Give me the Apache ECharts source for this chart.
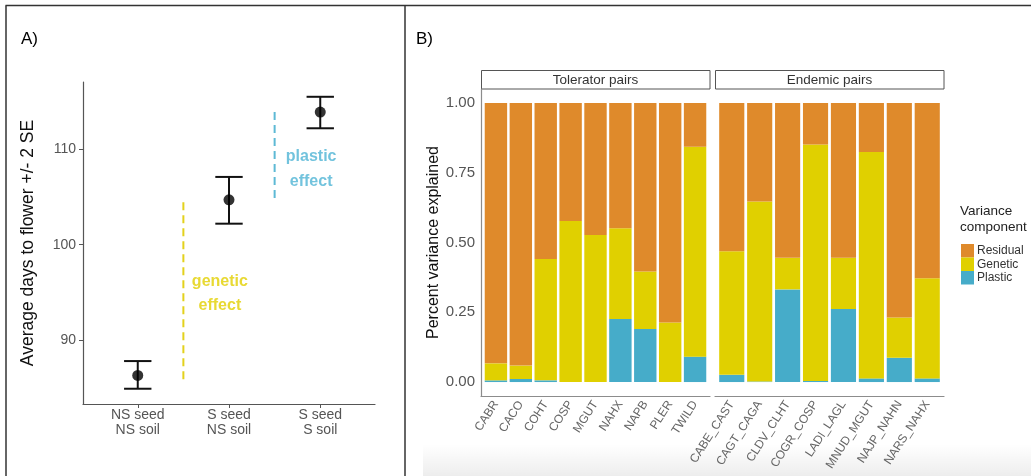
<!DOCTYPE html>
<html><head><meta charset="utf-8">
<script src="https://cdn.jsdelivr.net/npm/echarts@6/dist/echarts.min.js"></script>
<style>html,body{margin:0;padding:0;background:#fff}#c{width:1031px;height:476px}</style>
</head><body><div id="c"></div>
<script>
// ---------- Panel A data ----------
const treatments = ['NS seed\nNS soil', 'S seed\nNS soil', 'S seed\nS soil'];
const meanDays = [86.3, 104.7, 113.9];
const lowerSE = [84.9, 102.2, 112.2];
const upperSE = [87.8, 107.1, 115.5];
const aTicks = [90, 100, 110];
const geneticLineX = 0.5, geneticLineY = [85.9, 104.6];
const plasticLineX = 1.5, plasticLineY = [104.9, 114.1];
const geneticLabelPos = [0.9, 94.85];
const plasticLabelPos = [1.9, 107.9];

// ---------- Panel B data ----------
const tolCats = ['CABR', 'CACO', 'COHT', 'COSP', 'MGUT', 'NAHX', 'NAPB', 'PLER', 'TWILD'];
const tolPlastic = [0.006, 0.011, 0.006, 0.000, 0.000, 0.226, 0.190, 0.000, 0.091];
const tolGenetic = [0.061, 0.048, 0.435, 0.577, 0.527, 0.325, 0.206, 0.213, 0.752];
const tolResidual = [0.933, 0.941, 0.559, 0.423, 0.473, 0.449, 0.604, 0.787, 0.157];

const endCats = ['CABE_CAST', 'CAGT_CAGA', 'CLDV_CLHT', 'COGR_COSP', 'LADI_LAGL', 'MNUD_MGUT', 'NAJP_NAHN', 'NARS_NAHX'];
const endPlastic = [0.026, 0.002, 0.332, 0.004, 0.262, 0.013, 0.087, 0.013];
const endGenetic = [0.443, 0.645, 0.113, 0.847, 0.183, 0.811, 0.144, 0.359];
const endResidual = [0.531, 0.353, 0.555, 0.149, 0.555, 0.176, 0.769, 0.628];

const bTicks = [0, 0.25, 0.5, 0.75, 1];

const COL = { Residual: '#DF8A2B', Genetic: '#E0D000', Plastic: '#46ACC9' };
const FONT = '"Liberation Sans", Arial, sans-serif';

function stackRows(plastic, genetic, residual) {
  const p = plastic.map((v, i) => [i, 0, v]);
  const g = genetic.map((v, i) => [i, plastic[i], v]);
  const r = residual.map((v, i) => [i, plastic[i] + genetic[i], v]);
  return { p, g, r };
}
const tol = stackRows(tolPlastic, tolGenetic, tolResidual);
const end = stackRows(endPlastic, endGenetic, endResidual);

function barRender(params, api) {
  const x = api.value(0), b = api.value(1), h = api.value(2);
  const p0 = api.coord([x, b]);
  const p1 = api.coord([x, b + h]);
  const w = api.size([0.9, 0])[0];
  return { type: 'rect', shape: { x: p0[0] - w / 2, y: p1[1], width: w, height: p0[1] - p1[1] },
           style: { fill: api.visual('color') } };
}
function barSeries(name, rows, idx) {
  return { type: 'custom', name: name, xAxisIndex: idx, yAxisIndex: idx, renderItem: barRender,
           encode: { x: 0, y: 2 }, itemStyle: { color: COL[name] }, data: rows, silent: true };
}
function errRender(params, api) {
  const x = api.value(0);
  const lo = api.coord([x, api.value(1)]);
  const hi = api.coord([x, api.value(2)]);
  const hw = api.size([0.15, 0])[0];
  const st = { stroke: '#111', lineWidth: 2 };
  return { type: 'group', children: [
    { type: 'line', shape: { x1: lo[0], y1: lo[1], x2: hi[0], y2: hi[1] }, style: st },
    { type: 'line', shape: { x1: lo[0] - hw, y1: lo[1], x2: lo[0] + hw, y2: lo[1] }, style: st },
    { type: 'line', shape: { x1: hi[0] - hw, y1: hi[1], x2: hi[0] + hw, y2: hi[1] }, style: st }
  ] };
}

const bAxisColor = '#8c8c8c';
function bXAxis(idx, cats) {
  return { type: 'value', gridIndex: idx, min: -0.6, max: cats.length - 0.4,
    axisLine: { show: true, onZero: false, lineStyle: { color: bAxisColor, width: 1.2 } },
    axisTick: { show: false }, splitLine: { show: false },
    axisLabel: { customValues: cats.map((c, i) => i), rotate: 57, margin: 6,
      formatter: v => cats[Math.round(v)], color: '#666', fontSize: 12, fontFamily: FONT } };
}

const chart = echarts.init(document.getElementById('c'), null, { renderer: 'canvas' });
chart.setOption({
  backgroundColor: '#fff',
  animation: false,
  textStyle: { fontFamily: FONT },
  title: [
    { text: 'A)', left: 21, top: 31, padding: 0, textStyle: { fontSize: 17, fontWeight: 'normal', color: '#000', fontFamily: FONT } },
    { text: 'B)', left: 416, top: 31, padding: 0, textStyle: { fontSize: 17, fontWeight: 'normal', color: '#000', fontFamily: FONT } },
    { text: 'Variance\ncomponent', left: 960, top: 203, padding: 0,
      textStyle: { fontSize: 13.5, fontWeight: 'normal', color: '#222', lineHeight: 16.5, fontFamily: FONT } }
  ],
  legend: {
    data: ['Residual', 'Genetic', 'Plastic'], orient: 'vertical', left: 961, top: 244, padding: 0,
    itemWidth: 13, itemHeight: 13.5, itemGap: 0, icon: 'rect', selectedMode: false,
    textStyle: { fontSize: 12, color: '#333', lineHeight: 13.5, fontFamily: FONT, padding: [0, 0, 0, -2] }
  },
  grid: [
    { left: 83, top: 82, width: 292, height: 322 },
    { left: 481, top: 89, width: 229, height: 307 },
    { left: 715, top: 89, width: 229, height: 307 }
  ],
  xAxis: [
    { type: 'value', gridIndex: 0, min: -0.6, max: 2.6,
      axisLine: { onZero: false, lineStyle: { color: '#555', width: 1.2 } },
      axisTick: { show: true, customValues: [0, 1, 2], length: 4, lineStyle: { color: '#555' } },
      splitLine: { show: false },
      axisLabel: { customValues: [0, 1, 2], formatter: v => treatments[Math.round(v)], margin: 4,
        color: '#555', fontSize: 14, lineHeight: 15, fontFamily: FONT } },
    bXAxis(1, tolCats),
    bXAxis(2, endCats)
  ],
  yAxis: [
    { type: 'value', gridIndex: 0, min: 83.3, max: 117.05,
      name: 'Average days to flower +/- 2 SE', nameLocation: 'middle', nameRotate: 90, nameGap: 46,
      nameTextStyle: { fontSize: 17.5, color: '#111', fontFamily: FONT },
      axisLine: { show: true, onZero: false, lineStyle: { color: '#555', width: 1.2 } },
      axisTick: { show: true, customValues: aTicks, length: 4, lineStyle: { color: '#555' } },
      splitLine: { show: false },
      axisLabel: { customValues: aTicks, margin: 7, color: '#555', fontSize: 14, fontFamily: FONT } },
    { type: 'value', gridIndex: 1, min: -0.05, max: 1.05,
      name: 'Percent variance explained', nameLocation: 'middle', nameRotate: 90, nameGap: 38,
      nameTextStyle: { fontSize: 16, color: '#111', fontFamily: FONT },
      axisLine: { show: true, onZero: false, lineStyle: { color: bAxisColor, width: 1.2 } },
      axisTick: { show: false }, splitLine: { show: false },
      axisLabel: { customValues: bTicks, margin: 6, formatter: v => v.toFixed(2),
        color: '#555', fontSize: 15, fontFamily: FONT } },
    { type: 'value', gridIndex: 2, min: -0.05, max: 1.05, show: false, splitLine: { show: false } }
  ],
  series: [
    { type: 'line', xAxisIndex: 0, yAxisIndex: 0, symbol: 'none', silent: true,
      lineStyle: { color: '#E3D11C', width: 2, type: [8, 5] },
      data: geneticLineY.map(y => [geneticLineX, y]) },
    { type: 'line', xAxisIndex: 0, yAxisIndex: 0, symbol: 'none', silent: true,
      lineStyle: { color: '#5DB9D5', width: 2, type: [8, 5] },
      data: plasticLineY.map(y => [plasticLineX, y]) },
    { type: 'custom', xAxisIndex: 0, yAxisIndex: 0, renderItem: errRender, encode: { x: 0, y: [1, 2] },
      data: treatments.map((t, i) => [i, lowerSE[i], upperSE[i]]), silent: true },
    { type: 'scatter', xAxisIndex: 0, yAxisIndex: 0, symbolSize: 11, itemStyle: { color: '#000' },
      data: meanDays.map((v, i) => [i, v]), silent: true },
    { type: 'scatter', xAxisIndex: 0, yAxisIndex: 0, symbolSize: 0, silent: true,
      data: [geneticLabelPos],
      label: { show: true, position: 'inside', formatter: 'genetic\neffect', color: '#E2D000',
        fontWeight: 'bold', fontSize: 16, lineHeight: 24.5, fontFamily: FONT } },
    { type: 'scatter', xAxisIndex: 0, yAxisIndex: 0, symbolSize: 0, silent: true,
      data: [plasticLabelPos],
      label: { show: true, position: 'inside', formatter: 'plastic\neffect', color: '#4FB4D4',
        fontWeight: 'bold', fontSize: 16, lineHeight: 25, fontFamily: FONT } },
    barSeries('Plastic', tol.p, 1), barSeries('Genetic', tol.g, 1), barSeries('Residual', tol.r, 1),
    barSeries('Plastic', end.p, 2), barSeries('Genetic', end.g, 2), barSeries('Residual', end.r, 2)
  ],
  graphic: [
    { type: 'rect', shape: { x: 423, y: 444, width: 608, height: 32 }, silent: true, z: -10,
      style: { fill: new echarts.graphic.LinearGradient(0, 0, 0, 1, [
        { offset: 0, color: 'rgba(0,0,0,0)' }, { offset: 1, color: 'rgba(0,0,0,0.07)' }]) } },
    { type: 'line', shape: { x1: 5.5, y1: 5.5, x2: 1031, y2: 5.5 }, style: { stroke: '#333', lineWidth: 1.5 } },
    { type: 'line', shape: { x1: 6, y1: 5.5, x2: 6, y2: 476 }, style: { stroke: '#333', lineWidth: 1.5 } },
    { type: 'line', shape: { x1: 405, y1: 5.5, x2: 405, y2: 476 }, style: { stroke: '#333', lineWidth: 1.5 } },
    { type: 'rect', shape: { x: 481.5, y: 70.5, width: 228.5, height: 18.5 },
      style: { fill: '#fff', stroke: '#555', lineWidth: 1 } },
    { type: 'text', x: 595.5, y: 80, style: { text: 'Tolerator pairs', fill: '#333', fontSize: 13.5,
      fontFamily: FONT, align: 'center', verticalAlign: 'middle' } },
    { type: 'rect', shape: { x: 715.5, y: 70.5, width: 228.5, height: 18.5 },
      style: { fill: '#fff', stroke: '#555', lineWidth: 1 } },
    { type: 'text', x: 829.5, y: 80, style: { text: 'Endemic pairs', fill: '#333', fontSize: 13.5,
      fontFamily: FONT, align: 'center', verticalAlign: 'middle' } }
  ]
});
</script></body></html>
